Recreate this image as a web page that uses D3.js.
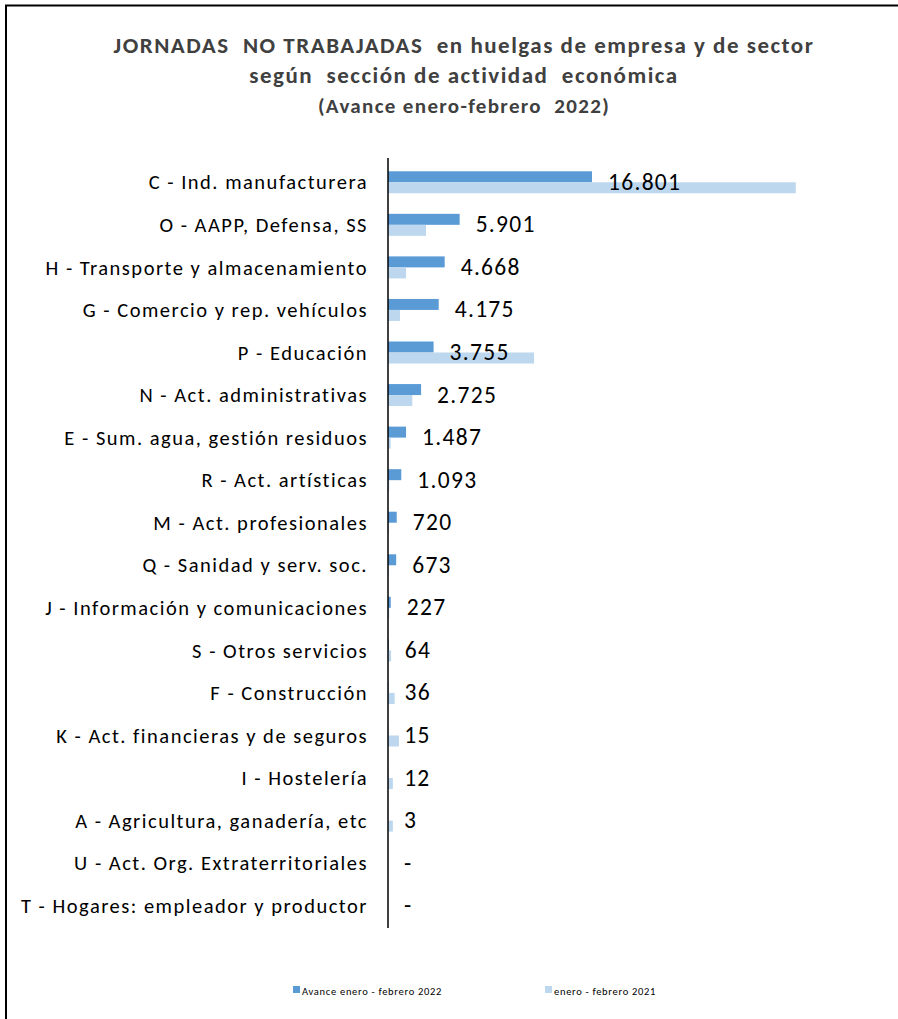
<!DOCTYPE html>
<html><head><meta charset="utf-8">
<script src="https://cdn.jsdelivr.net/npm/d3@7"></script>
<style>body{margin:0;background:#fff} text{white-space:pre}</style>
</head><body>
<script>
const categories = [
  "C - Ind. manufacturera","O - AAPP, Defensa, SS","H - Transporte y almacenamiento",
  "G - Comercio y rep. vehículos","P - Educación","N - Act. administrativas",
  "E - Sum. agua, gestión residuos","R - Act. artísticas","M - Act. profesionales",
  "Q - Sanidad y serv. soc.","J - Información y comunicaciones","S - Otros servicios",
  "F - Construcción","K - Act. financieras y de seguros","I - Hostelería",
  "A - Agricultura, ganadería, etc","U - Act. Org. Extraterritoriales","T - Hogares: empleador y productor"
];
const values2022 = [16801,5901,4668,4175,3755,2725,1487,1093,720,673,227,64,36,15,12,3,null,null];
const values2021 = [33580,3130,1480,990,12030,2000,220,100,80,60,100,250,550,900,400,400,0,0];
const valueLabels = ["16.801","5.901","4.668","4.175","3.755","2.725","1.487","1.093","720","673","227","64","36","15","12","3","-","-"];
const seriesNames = ["Avance enero - febrero 2022","enero - febrero 2021"];
const titleLines = ["JORNADAS  NO TRABAJADAS  en huelgas de empresa y de sector","según  sección de actividad  económica","(Avance enero-febrero  2022)"];

const W=898,H=1019;
const colors=["#5B9BD5","#BDD7EE"];
const svg=d3.select("body").append("svg").attr("width",W).attr("height",H);
svg.append("rect").attr("width",W).attr("height",H).attr("fill","#fff");
svg.append("path").attr("d","M6,1025 V5.5 H905").attr("fill","none").attr("stroke","#000").attr("stroke-width",2);

const font="Carlito, Calibri, Lato, 'Open Sans', sans-serif";
const tsz=[23,23,21], ty=[53,83,113], tls=[1.5,1.5,1.35];
titleLines.forEach((t,i)=>svg.append("text").attr("x",464).attr("y",ty[i]).attr("text-anchor","middle")
  .attr("font-family",font).attr("font-weight","bold").attr("font-size",tsz[i]).attr("letter-spacing",tls[i])
  .attr("fill","#404040").text(t));

const x=d3.scaleLinear().domain([0,35000]).range([388,813]);
const y=d3.scaleBand().domain(categories).range([161,927]).padding(0);
const bh=11;
const g=svg.append("g");
categories.forEach((c,i)=>{
  const cy=y(c)+y.bandwidth()/2;
  if(values2022[i]!=null) g.append("rect").attr("x",x(0)).attr("y",cy-bh).attr("width",x(values2022[i])-x(0)).attr("height",bh).attr("fill",colors[0]);
  if(values2021[i]) g.append("rect").attr("x",x(0)).attr("y",cy).attr("width",x(values2021[i])-x(0)).attr("height",bh).attr("fill",colors[1]);
  g.append("text").attr("x",x(values2022[i]||0)+16).attr("y",cy+7.5).attr("font-family",font).attr("font-size",23.5)
    .attr("letter-spacing",1.3).attr("fill","#000").text(valueLabels[i]);
});
const yAxis=d3.axisLeft(y).tickSize(0).tickPadding(20);
const ax=svg.append("g").attr("transform",`translate(${x(0)},0)`).call(yAxis);
ax.select(".domain").attr("stroke","#000").attr("stroke-width",1.5).attr("d","M0,158V928");
ax.selectAll("text").attr("font-family",font).attr("font-size",20.5).attr("letter-spacing",1.5).attr("fill","#000").attr("dy","0.35em");

const lg=[{x:293,label:seriesNames[0]},{x:545,label:seriesNames[1]}];
lg.forEach((l,i)=>{
  svg.append("rect").attr("x",l.x).attr("y",986).attr("width",7).attr("height",7).attr("fill",colors[i]);
  svg.append("text").attr("x",l.x+9).attr("y",995).attr("font-family",font).attr("font-size",10.5).attr("letter-spacing",0.7).attr("fill","#000").text(l.label);
});
</script>
</body></html>
